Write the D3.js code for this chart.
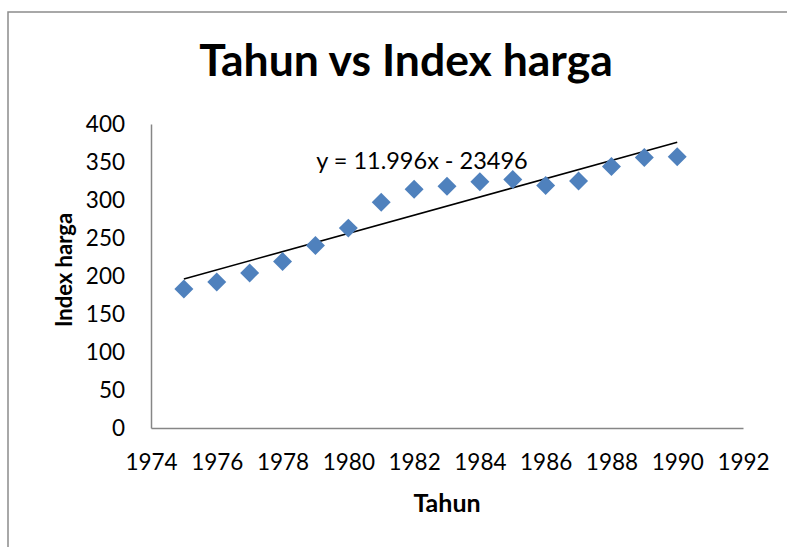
<!DOCTYPE html>
<html>
<head>
<meta charset="utf-8">
<script src="https://cdn.jsdelivr.net/npm/d3@7"></script>
<style>
  html, body { margin: 0; padding: 0; background: #fff; }
  svg { display: block; }
  text { font-family: Lato, "Open Sans", sans-serif; fill: #000; }
</style>
</head>
<body>
<script>
// ---- data ----
const years = [1975, 1976, 1977, 1978, 1979, 1980, 1981, 1982, 1983, 1984, 1985, 1986, 1987, 1988, 1989, 1990];
const indexHarga = [183, 192, 204, 219, 240, 263, 297, 314, 318, 324, 327, 319, 325, 344, 356, 357];
const xTicks = [1974, 1976, 1978, 1980, 1982, 1984, 1986, 1988, 1990, 1992];
const yTicks = [0, 50, 100, 150, 200, 250, 300, 350, 400];
const trendSlope = 11.996;
const trendIntercept = -23496;
const titleText = "Tahun vs Index harga";
const xLabel = "Tahun";
const yLabel = "Index harga";
const equationText = "y = 11.996x - 23496";

const W = 787, H = 547;
const svg = d3.select("body").append("svg").attr("width", W).attr("height", H);

// outer chart frame (extends past the right/bottom edge)
svg.append("rect")
  .attr("x", 8).attr("y", 12).attr("width", 820).attr("height", 560)
  .attr("fill", "#fff").attr("stroke", "#8c8c8c").attr("stroke-width", 1.5);

const x = d3.scaleLinear().domain([1974, 1992]).range([151, 743]);
const y = d3.scaleLinear().domain([0, 400]).range([428, 124]);

// title
svg.append("text").attr("x", 406).attr("y", 76)
  .attr("text-anchor", "middle").attr("font-weight", "bold").attr("font-size", 44.5)
  .text(titleText);

// axes
const xAxis = svg.append("g").attr("transform", `translate(0,${y(0)})`)
  .call(d3.axisBottom(x).tickValues(xTicks).tickSize(0).tickPadding(26).tickFormat(d3.format("d")));
const yAxis = svg.append("g").attr("transform", `translate(${x(1974)},0)`)
  .call(d3.axisLeft(y).tickValues(yTicks).tickSize(0).tickPadding(26));
[xAxis, yAxis].forEach(g => {
  g.select(".domain").attr("stroke", "#868686").attr("stroke-width", 1.5);
  g.selectAll("text").attr("font-family", "Lato, sans-serif").attr("font-size", 22.5).attr("fill", "#000");
});

// trendline
svg.append("line")
  .attr("x1", x(years[0])).attr("y1", y(trendSlope * years[0] + trendIntercept))
  .attr("x2", x(years[years.length - 1])).attr("y2", y(trendSlope * years[years.length - 1] + trendIntercept))
  .attr("stroke", "#000").attr("stroke-width", 1.6);

// markers
const sym = d3.symbol().type(d3.symbolSquare).size(180);
svg.append("g").selectAll("path").data(years).join("path")
  .attr("d", sym)
  .attr("transform", (d, i) => `translate(${x(d)},${y(indexHarga[i])}) rotate(45)`)
  .attr("fill", "#4f81bd");

// equation label
svg.append("text").attr("x", 422).attr("y", 169)
  .attr("text-anchor", "middle").attr("font-size", 23.5)
  .text(equationText);

// axis titles
svg.append("text").attr("x", 447).attr("y", 512)
  .attr("text-anchor", "middle").attr("font-weight", "bold").attr("font-size", 25)
  .text(xLabel);
svg.append("text").attr("transform", "translate(72,270) rotate(-90)")
  .attr("text-anchor", "middle").attr("font-weight", "bold").attr("font-size", 22)
  .text(yLabel);
</script>
</body>
</html>
